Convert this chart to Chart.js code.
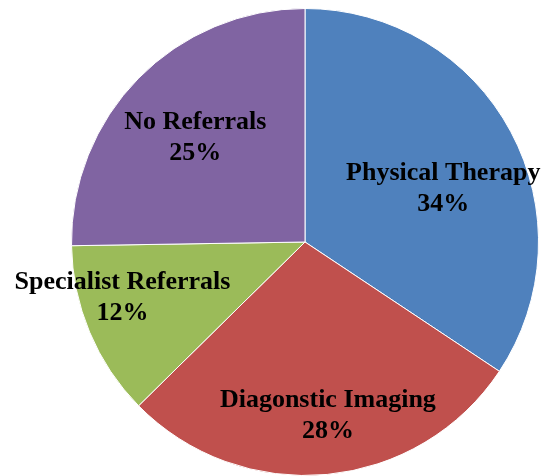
<!DOCTYPE html>
<html>
<head>
<meta charset="utf-8">
<script src="https://cdn.jsdelivr.net/npm/chart.js@4/dist/chart.umd.min.js"></script>
<style>
  html, body { margin: 0; padding: 0; background: #fff; }
  #wrap { width: 546px; height: 476px; }
</style>
</head>
<body>
<div id="wrap"><canvas id="pieChart" width="546" height="476"></canvas></div>
<script>
// data
const categories = ['Physical Therapy', 'Diagonstic Imaging', 'Specialist Referrals', 'No Referrals'];
const shares = [34, 28, 12, 25];
const sliceColors = ['#4F81BD', '#C0504D', '#9BBB59', '#8064A2'];

// where each label sits, as a fraction of the radius from the centre
const labelSpots = [[0.592, -0.228], [0.098, 0.745], [-0.782, 0.237], [-0.470, -0.445]];

const pieLabels = {
  id: 'pieLabels',
  afterDatasetsDraw(chart) {
    const ctx = chart.ctx;
    const arcs = chart.getDatasetMeta(0).data;
    ctx.save();
    ctx.font = 'bold 26px "Liberation Serif", "Times New Roman", serif';
    ctx.fillStyle = '#000';
    ctx.textAlign = 'center';
    ctx.textBaseline = 'middle';
    arcs.forEach((arc, i) => {
      const r = arc.outerRadius;
      const x = arc.x + labelSpots[i][0] * r;
      const y = arc.y + labelSpots[i][1] * r;
      ctx.fillText(categories[i], x, y - 15.5);
      ctx.fillText(shares[i] + '%', x, y + 15.5);
    });
    ctx.restore();
  }
};

new Chart(document.getElementById('pieChart'), {
  type: 'pie',
  data: {
    labels: categories,
    datasets: [{
      data: shares,
      backgroundColor: sliceColors,
      borderColor: '#ffffff',
      borderWidth: 1
    }]
  },
  options: {
    responsive: false,
    animation: false,
    layout: { padding: { left: 64, right: -1, top: 8, bottom: -1 } },
    plugins: {
      legend: { display: false },
      tooltip: { enabled: false }
    }
  },
  plugins: [pieLabels]
});
</script>
</body>
</html>
